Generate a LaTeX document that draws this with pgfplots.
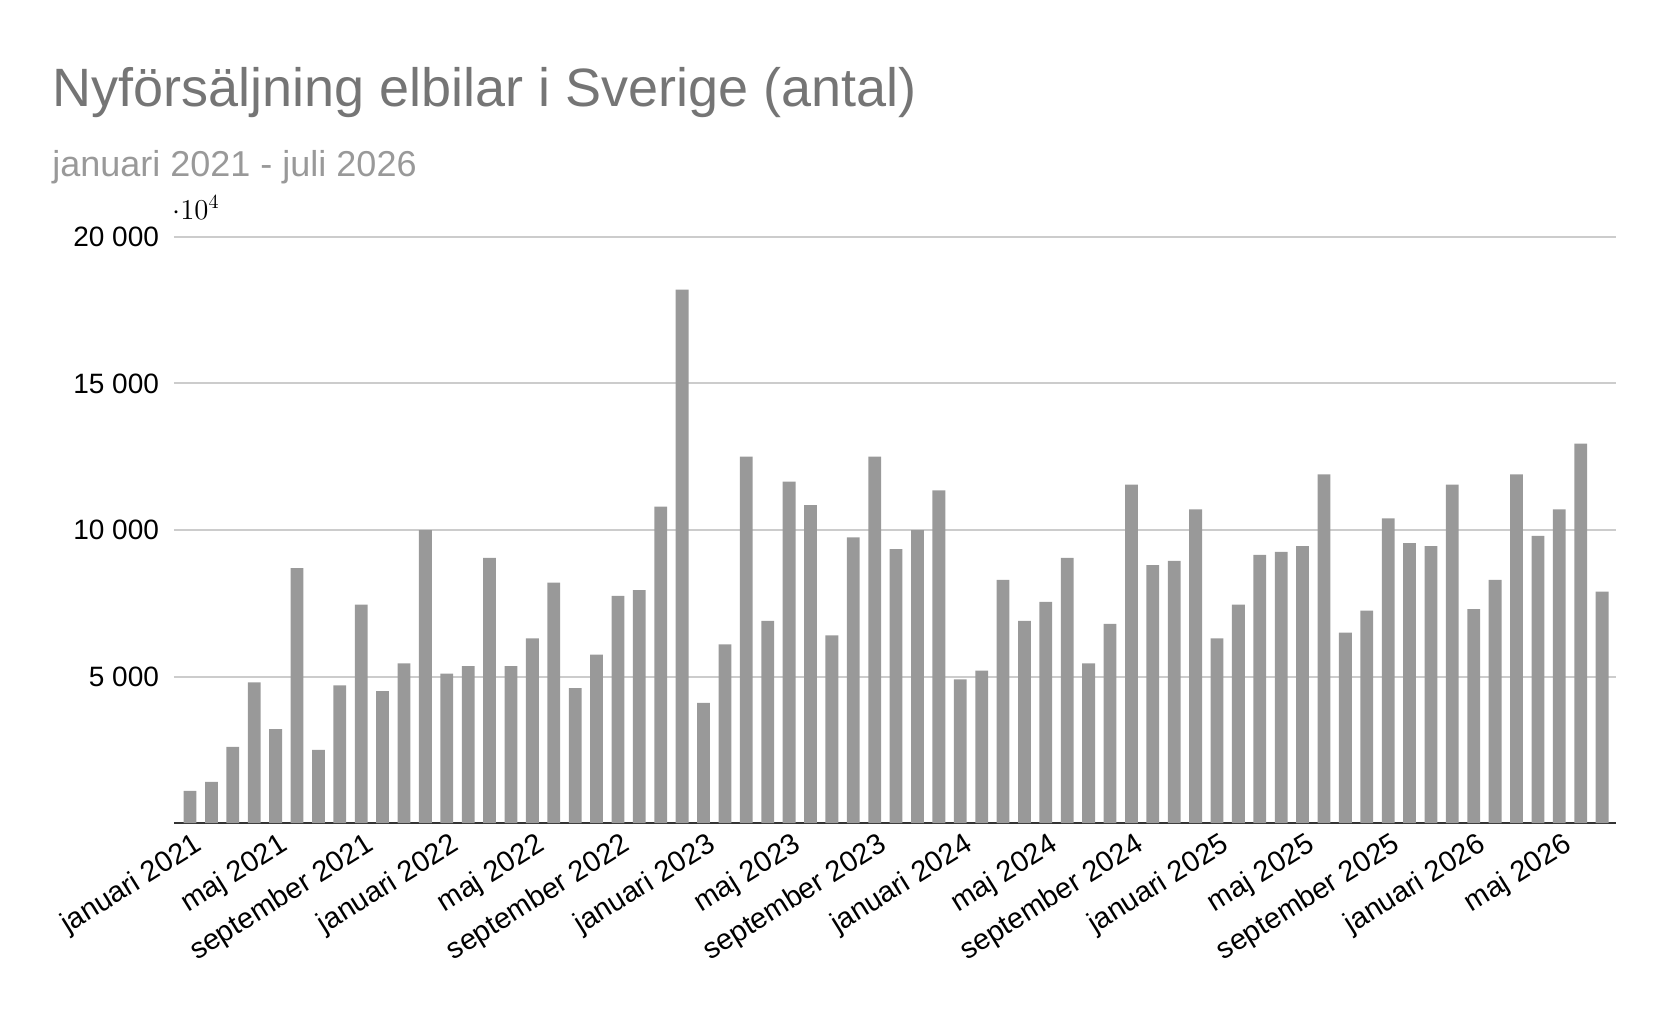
\documentclass[border=0pt]{standalone}
\usepackage{pgfplots}
\pgfplotsset{compat=1.18}
\usepackage{fontspec}
\setmainfont{Liberation Sans}
\definecolor{bar}{HTML}{999999}
\definecolor{grd}{HTML}{CCCCCC}
\definecolor{ttl}{HTML}{757575}
\begin{document}
\begin{tikzpicture}
\useasboundingbox (-87pt,-103pt) rectangle (746pt,411.5pt);
\begin{axis}[at={(0,0)},anchor=origin,scale only axis,width=721pt,height=293pt,
 xmin=0.25,xmax=67.65,ymin=0,ymax=20000,
 axis x line*=bottom, axis y line*=left, y axis line style={draw=none},
 x axis line style={black!80,line width=1pt},
 ymajorgrids, grid style={grd,line width=1pt},
 ytick={5000,10000,15000,20000},
 yticklabels={5 000,10 000,15 000,20 000},
 yticklabel style={font=\fontsize{14}{16}\selectfont,anchor=east,xshift=-4pt},
 xtick={1,5,...,65}, major tick length=0pt,
 xticklabels={januari 2021,maj 2021,september 2021,januari 2022,maj 2022,september 2022,januari 2023,maj 2023,september 2023,januari 2024,maj 2024,september 2024,januari 2025,maj 2025,september 2025,januari 2026,maj 2026},
 xticklabel style={font=\fontsize{14.5}{16}\selectfont,rotate=32,anchor=north east,inner sep=1pt,yshift=-3pt},
 ]
\addplot[ybar,bar width=6.4pt,fill=bar,draw=none] coordinates {
(1,1100)(2,1400)(3,2600)(4,4800)(5,3200)(6,8700)(7,2500)(8,4700)(9,7450)(10,4500)
(11,5450)(12,10000)(13,5100)(14,5350)(15,9050)(16,5350)(17,6300)(18,8200)(19,4600)(20,5750)
(21,7750)(22,7950)(23,10800)(24,18200)(25,4100)(26,6100)(27,12500)(28,6900)(29,11650)(30,10850)
(31,6400)(32,9750)(33,12500)(34,9350)(35,10000)(36,11350)(37,4900)(38,5200)(39,8300)(40,6900)
(41,7550)(42,9050)(43,5450)(44,6800)(45,11550)(46,8800)(47,8950)(48,10700)(49,6300)(50,7450)
(51,9150)(52,9250)(53,9450)(54,11900)(55,6500)(56,7250)(57,10400)(58,9550)(59,9450)(60,11550)
(61,7300)(62,8300)(63,11900)(64,9800)(65,10700)(66,12950)(67,7900)};
\end{axis}
\node[anchor=base west,inner sep=0,text=ttl,font=\fontsize{27}{32}\selectfont] at (-61pt,358pt) {Nyförsäljning elbilar i Sverige (antal)};
\node[anchor=base west,inner sep=0,text=bar,font=\fontsize{18}{21}\selectfont] at (-61pt,323pt) {januari 2021 - juli 2026};
\end{tikzpicture}
\end{document}
